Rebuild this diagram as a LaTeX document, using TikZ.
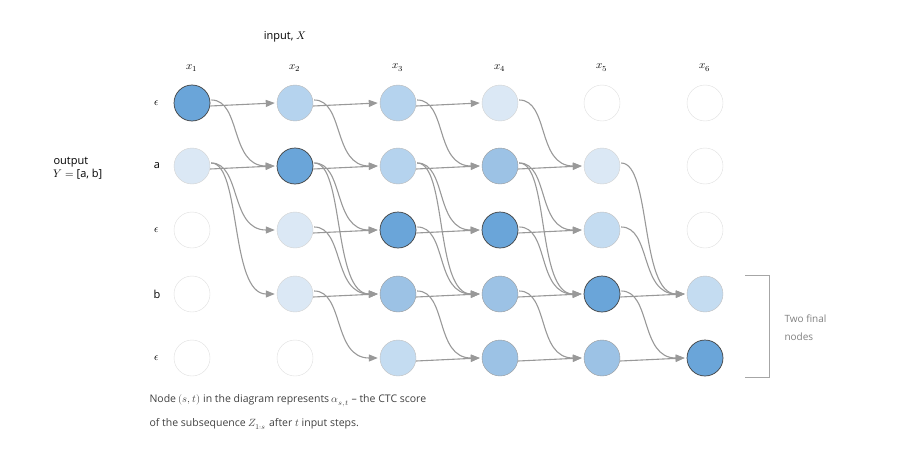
\documentclass[tikz,border=0pt]{standalone}
\usepackage{fontspec}
\setmainfont{Open Sans}
\usepackage{unicode-math}
\setmathfont{Latin Modern Math}
\usetikzlibrary{arrows.meta}
\definecolor{cdark}{HTML}{6AA5D9}
\definecolor{cmed}{HTML}{9CC2E5}
\definecolor{clight}{HTML}{B5D3EE}
\definecolor{clight2}{HTML}{C4DCF1}
\definecolor{cpale}{HTML}{DBE8F5}
\definecolor{edge}{HTML}{999999}
\begin{document}
\begin{tikzpicture}[x=1pt,y=-1pt,font=\fontsize{11}{13}\selectfont,
  st/.style={circle,minimum size=36pt,inner sep=0pt,draw=#1},
  s5/.style={st=black!75,fill=cdark,line width=0.7pt},
  s4/.style={st=gray!80,fill=cmed},
  s3/.style={st=gray!55,fill=clight},
  s2/.style={st=gray!50,fill=clight2},
  s1/.style={st=gray!35,fill=cpale},
  s0/.style={st=gray!25,fill=white},
  ar/.style={draw=edge,line width=1.1pt,-{Triangle[length=9pt,width=7pt]}}]
\useasboundingbox (0,0) rectangle (912,452);
\foreach \c/\x/\sa/\sb/\sc/\sd/\se in {1/192/5/1/0/0/0,2/295/3/5/1/1/0,3/398/3/3/5/4/2,4/500/1/4/5/4/4,5/602/0/1/2/5/4,6/705/0/0/0/2/5}{
  \node[s\sa] (n\c0) at (\x,103) {};
  \node[s\sb] (n\c1) at (\x,166) {};
  \node[s\sc] (n\c2) at (\x,230) {};
  \node[s\sd] (n\c3) at (\x,294) {};
  \node[s\se] (n\c4) at (\x,358) {};
  \node (x\c) at (\x,68) {$x_{\c}$};
}
\node (L0) at (157,103) {$\epsilon$};
\node (L1) at (157,166) {a};
\node (L2) at (157,230) {$\epsilon$};
\node (L3) at (157,294) {b};
\node (L4) at (157,358) {$\epsilon$};
\node (inp) at (285,37) {input, $X$};
\node[align=left,anchor=west] (out) at (50,168) {output\\$Y=$ [a, b]};
\foreach \a/\b/\c/\d in {
 1/0/2/0,1/0/2/1,1/1/2/1,1/1/2/2,1/1/2/3,
 2/0/3/0,2/0/3/1,2/1/3/1,2/1/3/2,2/1/3/3,2/2/3/2,2/2/3/3,2/3/3/3,2/3/3/4,
 3/0/4/0,3/0/4/1,3/1/4/1,3/1/4/2,3/1/4/3,3/2/4/2,3/2/4/3,3/3/4/3,3/3/4/4,3/4/4/4,
 4/0/5/1,4/1/5/1,4/1/5/2,4/1/5/3,4/2/5/2,4/2/5/3,4/3/5/3,4/3/5/4,4/4/5/4,
 5/1/6/3,5/2/6/3,5/3/6/3,5/3/6/4,5/4/6/4}{
 \ifnum\b=\d
  \draw[ar] ([yshift=-3pt]n\a\b.east) -- ([xshift=-2pt]n\c\d.west);
 \else
  \draw[ar] ([xshift=1pt,yshift=3pt]n\a\b.east) .. controls +(30,0) and +(-45,0) .. ([xshift=-2pt]n\c\d.west);
 \fi
}
\draw[gray!70,line width=0.8pt] (745,275) -- (769,275) -- (769,377) -- (745,377);
\node[gray,align=left,anchor=west,font=\fontsize{10}{18}\selectfont] (two) at (781,328) {Two final\\nodes};
\node[anchor=west,align=left,text=black!75,font=\fontsize{10.5}{24}\selectfont] (cap) at (146,412)
 {Node $(s,t)$ in the diagram represents $\alpha_{s,t}$ -- the CTC score\\of the subsequence $Z_{1:s}$ after $t$ input steps.};
\end{tikzpicture}
\end{document}
